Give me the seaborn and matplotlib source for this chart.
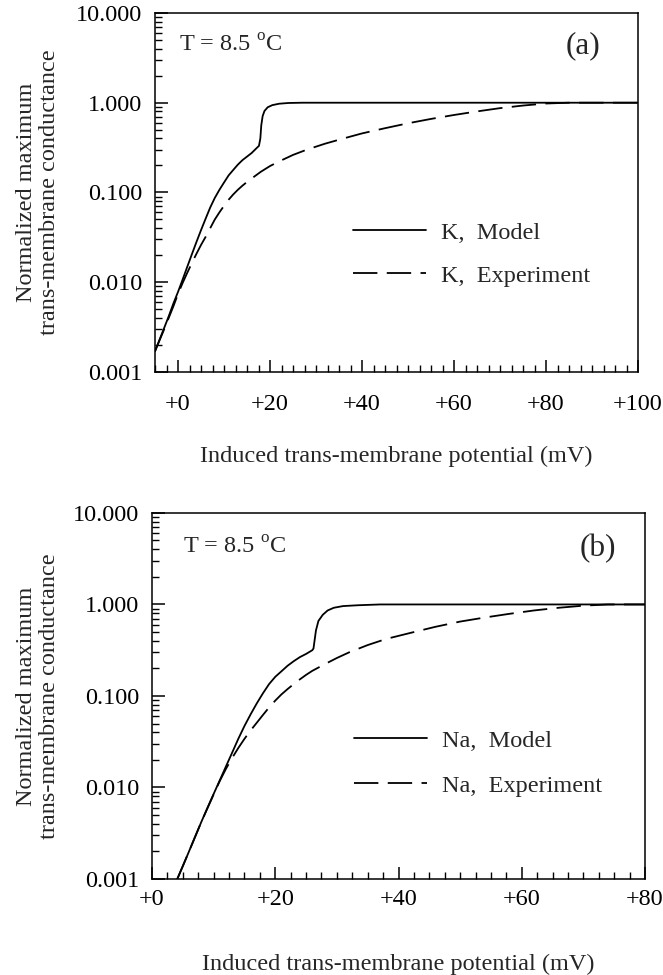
import matplotlib
matplotlib.use("Agg")
import matplotlib.pyplot as plt
import matplotlib.ticker as mticker
import seaborn as sns

# panel (a): K channel
k_model_x = [-5, -4, -3, -2, -1, 0, 1, 2, 3, 4, 5, 6, 7, 8, 9, 10, 11, 12, 13, 14, 15, 16, 17,
             17.6, 17.9, 18.1, 18.4, 18.8, 19.5, 20.5, 22, 24, 27, 100]
k_model_y = [0.0017, 0.0023, 0.0031, 0.0042, 0.0058, 0.0078, 0.0107, 0.0148, 0.0204, 0.028,
             0.038, 0.051, 0.068, 0.087, 0.107, 0.129, 0.155, 0.178, 0.204, 0.229, 0.251, 0.275,
             0.309, 0.331, 0.40, 0.56, 0.71, 0.81, 0.89, 0.94, 0.975, 0.993, 1.0, 1.0]
k_exp_x = [-5, -3, -1, 0, 1, 2, 3, 4, 5, 6, 7, 8, 9, 10, 11, 12, 13, 14, 15, 16, 18, 20, 22,
           25, 28, 32, 36, 40, 45, 50, 55, 60, 65, 70, 75, 80, 85, 100]
k_exp_y = [0.0017, 0.0030, 0.0054, 0.0074, 0.0098, 0.0127, 0.0163, 0.0207, 0.026, 0.032, 0.040,
           0.050, 0.060, 0.071, 0.083, 0.095, 0.107, 0.119, 0.131, 0.143, 0.170, 0.197, 0.222,
           0.262, 0.30, 0.35, 0.40, 0.455, 0.52, 0.59, 0.66, 0.73, 0.80, 0.87, 0.93, 0.98, 1.0, 1.0]

# panel (b): Na channel
na_model_x = [4.1, 5, 6, 7, 8, 9, 10, 11, 12, 13, 14, 15, 16, 17, 18, 19, 20, 21, 22, 23, 24,
              25, 26, 26.2, 26.6, 27.0, 27.7, 28.5, 29.5, 31, 33.4, 37, 80]
na_model_y = [0.0010, 0.00138, 0.0020, 0.0029, 0.0042, 0.0060, 0.0085, 0.012, 0.017, 0.024,
              0.034, 0.047, 0.063, 0.083, 0.107, 0.135, 0.162, 0.186, 0.214, 0.24, 0.266, 0.288,
              0.316, 0.33, 0.52, 0.66, 0.77, 0.86, 0.92, 0.96, 0.98, 1.0, 1.0]
na_exp_x = [4.1, 6, 8, 10, 11, 12, 13, 14, 15, 16, 17, 18, 19, 20, 21, 22, 23, 24, 25, 26, 28,
            30, 32, 35, 38, 42, 46, 50, 54, 58, 62, 66, 70, 74, 80]
na_exp_y = [0.0010, 0.0020, 0.0042, 0.0084, 0.0118, 0.0160, 0.0210, 0.027, 0.034, 0.042, 0.051,
            0.062, 0.075, 0.089, 0.104, 0.119, 0.135, 0.152, 0.170, 0.188, 0.222, 0.26, 0.30,
            0.36, 0.42, 0.49, 0.57, 0.65, 0.72, 0.79, 0.86, 0.92, 0.97, 1.0, 1.0]

y_ticks = [0.001, 0.01, 0.1, 1, 10]

sns.set_theme(style="ticks")
plt.rcParams["font.family"] = ["Liberation Serif", "DejaVu Serif"]
plt.rcParams["mathtext.fontset"] = "custom"
plt.rcParams["mathtext.rm"] = "Liberation Serif"
plt.rcParams["axes.linewidth"] = 1.1

FS = 17.5
DASH = (13.5, 5.2)


def style_axis(ax, xlim, xpad):
    ax.set_yscale("log")
    ax.set_ylim(0.001, 10)
    ax.set_xlim(*xlim)
    ax.set_yticks(y_ticks)
    ax.yaxis.set_major_formatter(mticker.FuncFormatter(lambda v, p: f"{v:.3f}"))
    ax.yaxis.set_minor_locator(mticker.LogLocator(base=10, subs=range(2, 10), numticks=20))
    ax.yaxis.set_minor_formatter(mticker.NullFormatter())
    ax.xaxis.set_major_locator(mticker.MultipleLocator(20))
    ax.xaxis.set_minor_locator(mticker.MultipleLocator(2.5))
    ax.xaxis.set_major_formatter(mticker.FuncFormatter(lambda v, p: f"+{v:.0f}"))
    ax.tick_params(which="both", direction="in", top=False, right=False, colors="black")
    ax.tick_params(which="major", length=9, width=1.1, labelsize=FS)
    ax.tick_params(which="minor", length=5, width=1.0)
    ax.tick_params(axis="y", which="major", pad=9)
    ax.tick_params(axis="x", which="major", pad=xpad)
    for s in ax.spines.values():
        s.set_color("black")


def draw(ax, mx, my, ex, ey, ion):
    sns.lineplot(x=mx, y=my, ax=ax, color="black", lw=1.3, label=f"{ion},  Model", sort=False)
    sns.lineplot(x=ex, y=ey, ax=ax, color="black", lw=1.3, label=f"{ion},  Experiment", sort=False)
    ax.lines[-1].set_dashes(DASH)


fig = plt.figure(figsize=(6.63, 9.75), dpi=100)
ax1 = fig.add_axes([0.2338, 0.6185, 0.7285, 0.3682])
ax2 = fig.add_axes([0.2293, 0.0985, 0.7436, 0.3754])

draw(ax1, k_model_x, k_model_y, k_exp_x, k_exp_y, "K")
draw(ax2, na_model_x, na_model_y, na_exp_x, na_exp_y, "Na")

style_axis(ax1, (-5, 100), 16)
style_axis(ax2, (0, 80), 7)

panels = [
    # ax, tag, T x, tag x, text y, legend x, legend y, label spacing, xlabel y, ylabel x
    (ax1, "(a)", 0.05, 0.886, 0.91, 0.41, 0.418, 0.85, -0.205, -0.197),
    (ax2, "(b)", 0.063, 0.905, 0.904, 0.41, 0.408, 0.95, -0.205, -0.187),
]
for ax, tag, tx, lx, ly, lgx, lgy, lsp, xly, yly in panels:
    ax.text(tx, ly, r"T = 8.5 $^{\rm o}$C", transform=ax.transAxes,
            fontsize=FS, va="center", ha="left")
    ax.text(lx, ly, tag, transform=ax.transAxes, fontsize=FS + 5, va="center", ha="center")
    ax.legend(loc="upper left", bbox_to_anchor=(lgx, lgy), frameon=False, fontsize=FS,
              handlelength=3.0, handletextpad=0.6, labelspacing=lsp, borderpad=0,
              borderaxespad=0)
    ax.set_xlabel("Induced trans-membrane potential (mV)", fontsize=FS)
    ax.set_ylabel("Normalized maximum\ntrans-membrane conductance", fontsize=FS,
                  linespacing=1.1)
    ax.xaxis.set_label_coords(0.5, xly)
    ax.yaxis.set_label_coords(yly, 0.5)

fig.savefig("out.png", dpi=100)
